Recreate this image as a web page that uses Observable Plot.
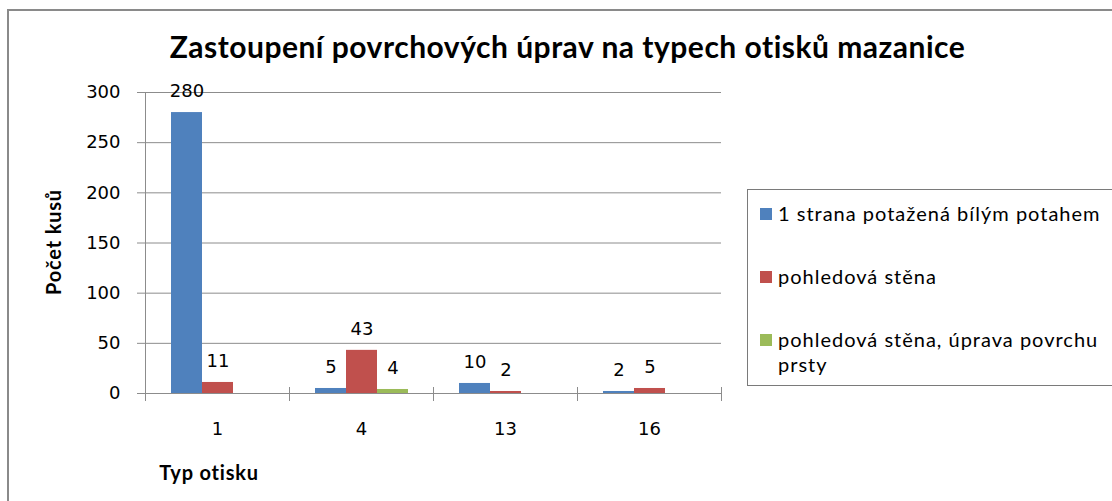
<!DOCTYPE html>
<html>
<head>
<meta charset="utf-8">
<script src="https://cdn.jsdelivr.net/npm/d3@7"></script>
<script src="https://cdn.jsdelivr.net/npm/@observablehq/plot@0.6"></script>
<style>
  body { margin: 0; background: #fff; font-family: Lato, "Open Sans", sans-serif; }
  #wrap { position: relative; width: 1112px; height: 501px; overflow: hidden; background: #fff; }
  #border { position: absolute; left: 7px; top: 9px; right: -10px; bottom: -10px;
            border-top: 2px solid #8a8a8a; border-left: 2px solid #8a8a8a; }
  #chart { position: absolute; left: 0; top: 0; }
  #title { position: absolute; top: 28px; left: 0; width: 1135px; text-align: center;
           font-weight: bold; font-size: 30px; letter-spacing: 0.5px; line-height: 36px; color: #000; white-space: nowrap; }
  #ytitle { position: absolute; left: 53px; top: 242px; transform: translate(-50%, -50%) rotate(-90deg);
            font-weight: bold; font-size: 20px; letter-spacing: 0.8px; white-space: nowrap; color: #000; }
  #xtitle { position: absolute; left: 209px; top: 472px; transform: translate(-50%, -50%);
            font-weight: bold; font-size: 20px; letter-spacing: 0.8px; white-space: nowrap; color: #000; }
  #legend { position: absolute; left: 747px; top: 189px; width: 380px; height: 197px;
            border: 1.5px solid #7a7a7a; box-sizing: border-box; padding-top: 11px; }
  .item { display: flex; align-items: flex-start; margin-bottom: 38px; font-size: 20px; line-height: 25px; color: #000; }
  .sw { width: 12px; height: 12px; margin: 6.5px 6px 0 12px; flex: none; }
  .lab { width: 330px; letter-spacing: 1px; }
  #chart svg text { font-family: "DejaVu Sans", Lato, sans-serif; font-size: 18px; }
</style>
</head>
<body>
<div id="wrap">
  <div id="border"></div>
  <div id="chart"></div>
  <div id="title"></div>
  <div id="ytitle"></div>
  <div id="xtitle"></div>
  <div id="legend"></div>
</div>
<script>
const chartTitle = "Zastoupení povrchových úprav na typech otisků mazanice";
const yAxisTitle = "Počet kusů";
const xAxisTitle = "Typ otisku";
const categories = ["1", "4", "13", "16"];
const series = ["1 strana potažená bílým potahem", "pohledová stěna", "pohledová stěna, úprava povrchu prsty"];
const blueValues = [280, 5, 10, 2];
const redValues = [11, 43, 2, 5];
const greenValues = [0, 4, 0, 0];
const yTicks = [0, 50, 100, 150, 200, 250, 300];
const colors = ["#4F81BD", "#C0504D", "#9BBB59"];

const data = [];
[blueValues, redValues, greenValues].forEach((vals, s) =>
  vals.forEach((v, i) => data.push({cat: categories[i], series: series[s], value: v})));

const axisColor = "#8c8c8c";

const chart = Plot.plot({
  width: 1112,
  height: 501,
  marginLeft: 143,
  marginRight: 390,
  marginTop: 92,
  marginBottom: 108,
  style: {fontFamily: "DejaVu Sans", fontSize: "18px", color: "#000", background: "transparent"},
  fx: {domain: categories, padding: 0, axis: null, label: null},
  x: {domain: series, paddingInner: 0, paddingOuter: 0.76, axis: null, label: null},
  y: {domain: [0, 300], axis: null, label: null},
  color: {domain: series, range: colors},
  marks: [
    Plot.gridY(yTicks, {stroke: axisColor, strokeOpacity: 1}),
    Plot.frame({anchor: "left", stroke: axisColor, insetTop: 295, insetBottom: -7}),
    Plot.frame({anchor: "left", stroke: axisColor, insetBottom: -7, facet: "super"}),
    Plot.frame({anchor: "right", stroke: axisColor, insetTop: 295, insetBottom: -7, facet: "super"}),
    Plot.frame({anchor: "bottom", stroke: axisColor, facet: "super"}),
    Plot.barY(data, {fx: "cat", x: "series", y: "value", fill: "series"}),
    Plot.text(data.filter(d => d.value > 0), {
      fx: "cat", x: "series", y: "value", text: d => String(d.value),
      dy: -21, lineAnchor: "middle", fill: "#000"
    }),
    Plot.axisY({ticks: yTicks, tickSize: 8, tickPadding: 17, stroke: axisColor, fill: "#000", label: null}),
    Plot.axisFx({anchor: "bottom", tickSize: 0, tickPadding: 29, fill: "#000", label: null})
  ]
});
document.getElementById("chart").appendChild(chart);

document.getElementById("title").textContent = chartTitle;
document.getElementById("ytitle").textContent = yAxisTitle;
document.getElementById("xtitle").textContent = xAxisTitle;

const legend = document.getElementById("legend");
series.forEach((name, i) => {
  const item = document.createElement("div");
  item.className = "item";
  const sw = document.createElement("div");
  sw.className = "sw";
  sw.style.background = colors[i];
  const lab = document.createElement("div");
  lab.className = "lab";
  lab.textContent = name;
  item.appendChild(sw);
  item.appendChild(lab);
  legend.appendChild(item);
});
</script>
</body>
</html>
